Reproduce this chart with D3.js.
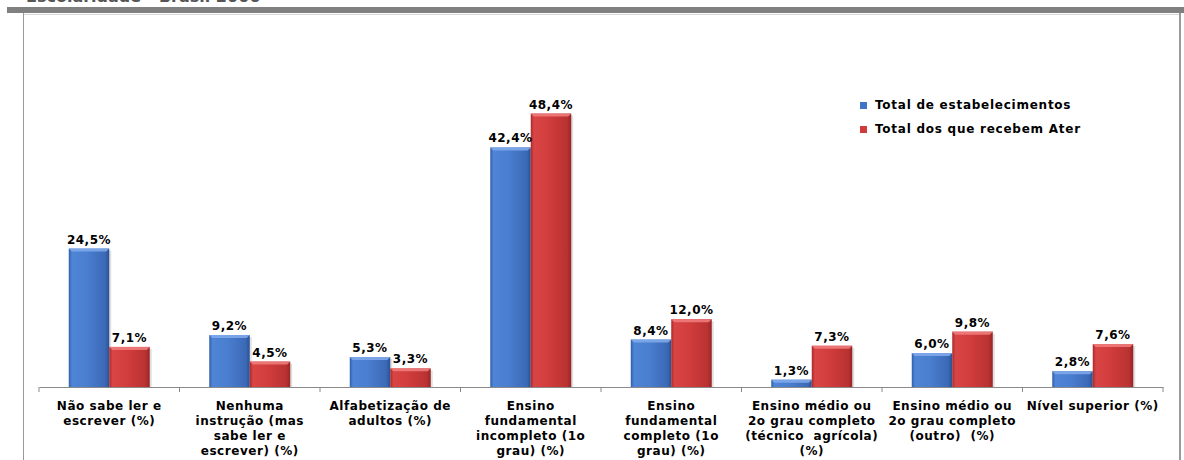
<!DOCTYPE html>
<html>
<meta charset="utf-8">
<style>
  body { margin: 0; background: #fff; }
  svg { display: block; }
  text { font-family: "DejaVu Sans", sans-serif; font-weight: bold; fill: #000; white-space: pre; }
  .cat { font-size: 12px; letter-spacing: 0.55px; }
  .val { font-size: 12px; letter-spacing: 0.5px; }
  .leg { font-size: 12px; letter-spacing: 0.75px; }
</style>
<body>
<script src="https://d3js.org/d3.v7.min.js"></script>
<script>
  // data
  let categories = [
    ["Não sabe ler e", "escrever (%)"],
    ["Nenhuma", "instrução (mas", "sabe ler e", "escrever) (%)"],
    ["Alfabetização de", "adultos (%)"],
    ["Ensino", "fundamental", "incompleto (1o", "grau) (%)"],
    ["Ensino", "fundamental", "completo (1o", "grau) (%)"],
    ["Ensino médio ou", "2o grau completo", "(técnico  agrícola)", "(%)"],
    ["Ensino médio ou", "2o grau completo", "(outro)  (%)"],
    ["Nível superior (%)"]
  ];
  let totalEstab = [24.5, 9.2, 5.3, 42.4, 8.4, 1.3, 6.0, 2.8];
  let totalAter = [7.1, 4.5, 3.3, 48.4, 12.0, 7.3, 9.8, 7.6];
  let seriesNames = ["Total de estabelecimentos", "Total dos que recebem Ater"];

  let width = 1184, height = 460;

  let svg = d3.select("body").append("svg")
    .attr("width", width)
    .attr("height", height);

  // gradients for the bevelled bars
  let defs = svg.append("defs");
  function grad(id, stops) {
    let g = defs.append("linearGradient").attr("id", id)
      .attr("x1", 0).attr("x2", 1).attr("y1", 0).attr("y2", 0);
    stops.forEach(s => g.append("stop").attr("offset", s[0]).attr("stop-color", s[1]));
  }
  grad("gBlue", [[0, "#2f5ea8"], [0.08, "#4f85d6"], [0.45, "#4a7ecf"], [0.9, "#3b69b6"], [1, "#2a5193"]]);
  grad("gRed", [[0, "#a92a2a"], [0.08, "#d94444"], [0.45, "#d13c3c"], [0.9, "#b93232"], [1, "#962424"]]);
  let fills = ["url(#gBlue)", "url(#gRed)"];
  let tops = ["#7fa9ea", "#ee7b7b"];
  let legendFills = ["#3f74c6", "#d03b3b"];

  // frame of the slide (the title above is cut off by the crop)
  svg.append("text").attr("x", 26).attr("y", 1.5)
    .style("font-size", "16px").style("fill", "#555")
    .text("Escolaridade - Brasil 2006");
  svg.append("rect").attr("x", 7).attr("y", 7).attr("width", width - 7).attr("height", 6).attr("fill", "#808080");
  svg.append("line").attr("x1", 23).attr("x2", 1180).attr("y1", 14.5).attr("y2", 14.5).attr("stroke", "#d6d6d6");
  svg.append("line").attr("x1", 23.5).attr("x2", 23.5).attr("y1", 13).attr("y2", height).attr("stroke", "#9a9a9a");
  svg.append("line").attr("x1", 1180).attr("x2", 1180).attr("y1", 13).attr("y2", height).attr("stroke", "#9a9a9a").attr("stroke-width", 2);

  let x0 = d3.scaleBand().domain(d3.range(categories.length)).range([39, 1163]).paddingInner(0).paddingOuter(0);
  let x1 = d3.scaleBand().domain([0, 1]).range([0, x0.bandwidth()]).paddingOuter(0.735).paddingInner(0);
  let y = d3.scaleLinear().domain([0, 60]).range([387, 48]);

  let fmt = v => d3.format(".1f")(v).replace(".", ",") + "%";

  let rows = categories.map((c, i) => [totalEstab[i], totalAter[i]]);

  let groups = svg.selectAll(".grp").data(rows).enter().append("g")
    .attr("class", "grp")
    .attr("transform", (d, i) => `translate(${x0(i)},0)`);

  let bars = groups.selectAll(".bar").data(d => d.map((v, s) => ({ v, s }))).enter();

  // soft shadow
  bars.append("rect")
    .attr("x", d => x1(d.s) + 2)
    .attr("y", d => y(d.v) + 2)
    .attr("width", x1.bandwidth())
    .attr("height", d => y(0) - y(d.v) - 2)
    .attr("fill", "#000").attr("opacity", 0.12);

  bars.append("rect")
    .attr("class", "bar")
    .attr("x", d => x1(d.s))
    .attr("y", d => y(d.v))
    .attr("width", x1.bandwidth())
    .attr("height", d => y(0) - y(d.v))
    .attr("fill", d => fills[d.s]);

  // bevel at the top of each bar
  bars.append("path")
    .attr("d", d => {
      let l = x1(d.s), r = l + x1.bandwidth(), t = y(d.v);
      return `M${l},${t}L${r},${t}L${r - 3},${t + 3}L${l + 3},${t + 3}Z`;
    })
    .attr("fill", d => tops[d.s]).attr("opacity", 0.9);

  bars.append("text")
    .attr("class", "val")
    .attr("x", d => x1(d.s) + x1.bandwidth() / 2)
    .attr("y", d => y(d.v) - 5)
    .attr("text-anchor", "middle")
    .text(d => fmt(d.v));

  // x axis with ticks between categories
  let axis = svg.append("g").attr("transform", `translate(0,${y(0)})`)
    .call(d3.axisBottom(x0).tickSize(0).tickFormat(""));
  axis.select(".domain").attr("stroke", "#8a8a8a");
  let bounds = d3.range(categories.length + 1).map(i => 39 + i * x0.bandwidth());
  axis.selectAll(".bnd").data(bounds).enter().append("line")
    .attr("x1", d => d).attr("x2", d => d).attr("y1", 0).attr("y2", 5)
    .attr("stroke", "#8a8a8a");

  // category labels
  svg.selectAll(".cat").data(categories).enter().append("text")
    .attr("class", "cat")
    .attr("text-anchor", "middle")
    .attr("transform", (d, i) => `translate(${x0(i) + x0.bandwidth() / 2},410)`)
    .selectAll("tspan").data(d => d).enter().append("tspan")
    .attr("x", 0)
    .attr("y", (d, i) => i * 15)
    .text(d => d);

  // legend
  let legend = svg.selectAll(".legitem").data(seriesNames).enter().append("g")
    .attr("transform", (d, i) => `translate(860,${105 + i * 24})`);
  legend.append("rect").attr("x", 0).attr("y", -3).attr("width", 7).attr("height", 7)
    .attr("fill", (d, i) => legendFills[i]);
  legend.append("text").attr("class", "leg").attr("x", 15).attr("y", 4).text(d => d);
</script>
</body>
</html>
